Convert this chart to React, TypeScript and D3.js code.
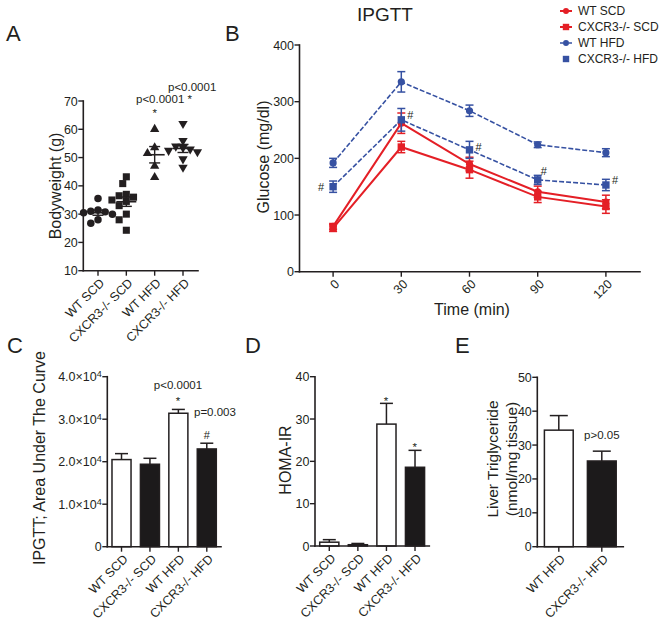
import React from 'react';
import * as d3 from 'd3';

// ---------------- DATA ----------------
const groups = ['WT SCD', 'CXCR3-/- SCD', 'WT HFD', 'CXCR3-/- HFD'];

// Panel A: body weight (g), individual animals
const bwWtScd = [35.5, 31.5, 31, 30.8, 30.5, 30, 28, 26.8];
const bwKoScd = [43.2, 40.8, 37, 36.5, 36, 35, 34.5, 33, 30, 28, 24.3];
const bwWtHfd = [60, 53.5, 51.5, 47, 43];
const bwKoHfd = [62, 56, 54, 53.5, 53, 52.5, 52, 49.5, 46.5];
const bwTicks = [10, 20, 30, 40, 50, 60, 70];

// Panel B: IPGTT glucose (mg/dl)
const timePoints = [0, 30, 60, 90, 120];
const gluWtScd = [80, 262, 190, 141, 123];
const gluWtScdErr = [5, 18, 12, 10, 12];
const gluKoScd = [77, 220, 180, 132, 115];
const gluKoScdErr = [6, 10, 15, 10, 12];
const gluWtHfd = [192, 335, 284, 224, 210];
const gluWtHfdErr = [8, 18, 10, 5, 7];
const gluKoHfd = [150, 268, 215, 162, 153];
const gluKoHfdErr = [10, 20, 15, 8, 10];
const gluTicks = [0, 100, 200, 300, 400];

// Panel C: AUC
const aucMeans = [20500, 19400, 31400, 23000];
const aucErr = [1400, 1400, 900, 1350];
const aucTicks = [0, 10000, 20000, 30000, 40000];

// Panel D: HOMA-IR
const homaMeans = [0.9, 0.3, 28.8, 18.6];
const homaErr = [0.6, 0.3, 4.9, 4.0];
const homaTicks = [0, 10, 20, 30, 40];

// Panel E: liver triglyceride
const tgGroups = ['WT HFD', 'CXCR3-/- HFD'];
const tgMeans = [34.4, 25.3];
const tgErr = [4.3, 2.9];
const tgTicks = [0, 10, 20, 30, 40, 50];

// ---------------- STYLE ----------------
const FONT = '"Liberation Sans", Arial, Helvetica, sans-serif';
const INK = '#231f20';
const RED = '#e41f26';
const BLUE = '#3651a2';
const BAR_BLACK = '#1c1a1b';

function YAxis({ scale, ticks, x, fmt }: any) {
  const lo = d3.min(ticks) as number;
  const hi = d3.max(ticks) as number;
  return (
    <g>
      <line x1={x} x2={x} y1={scale(hi)} y2={scale(lo)} stroke={INK} strokeWidth={1.6} strokeLinecap="square" />
      {ticks.map((t: number) => (
        <g key={t}>
          <line x1={x - 5} x2={x} y1={scale(t)} y2={scale(t)} stroke={INK} strokeWidth={1.4} />
          <text x={x - 5.5} y={scale(t)} dy="0.36em" textAnchor="end" fontSize={12.5} fill={INK}>
            {fmt ? fmt(t) : t}
          </text>
        </g>
      ))}
    </g>
  );
}

function XAxisCats({ x0, x1, y, positions, labels }: any) {
  return (
    <g>
      <line x1={x0} x2={x1} y1={y} y2={y} stroke={INK} strokeWidth={1.6} strokeLinecap="square" />
      {positions.map((p: number, i: number) => (
        <g key={i}>
          <line x1={p} x2={p} y1={y} y2={y + 5} stroke={INK} strokeWidth={1.4} />
          <text
            transform={`translate(${p + 4},${y + 10}) rotate(-45)`}
            dy="0.35em"
            textAnchor="end"
            fontSize={12.5}
            fill={INK}
          >
            {labels[i]}
          </text>
        </g>
      ))}
    </g>
  );
}

function swarm(values: number[], yScale: any, cx: number, minDist: number, step: number) {
  const order = values.map((v) => ({ v, y: yScale(v) })).sort((a, b) => a.y - b.y);
  const placed: { x: number; y: number; v: number }[] = [];
  for (const p of order) {
    let k = 0;
    while (k < 40) {
      const m = Math.ceil(k / 2);
      const off = k === 0 ? 0 : k % 2 === 1 ? -m * step : m * step;
      const x = cx + off;
      if (placed.every((q) => Math.hypot(q.x - x, q.y - p.y) >= minDist)) {
        placed.push({ x, y: p.y, v: p.v });
        break;
      }
      k++;
    }
  }
  return placed;
}

function PanelA() {
  const y = d3.scaleLinear().domain([10, 70]).range([270.7, 101]);
  const x = d3.scalePoint<string>().domain(groups).range([98, 183]);
  const sets = [bwWtScd, bwKoScd, bwWtHfd, bwKoHfd];
  const symbols = [
    { type: d3.symbolCircle, size: 44, rot: 0 },
    { type: d3.symbolSquare, size: 50, rot: 0 },
    { type: d3.symbolTriangle, size: 38, rot: 0 },
    { type: d3.symbolTriangle, size: 38, rot: 180 },
  ];
  return (
    <g>
      <YAxis scale={y} ticks={bwTicks} x={83.3} />
      <XAxisCats x0={83.3} x1={198} y={270.7} positions={groups.map((g) => x(g))} labels={groups} />
      {sets.map((vals, gi) => {
        const cx = x(groups[gi]) as number;
        const pts = swarm(vals, y, cx, 7, 3.6);
        const mean = d3.mean(vals) as number;
        const sem = (d3.deviation(vals) as number) / Math.sqrt(vals.length);
        const path = d3.symbol().type(symbols[gi].type).size(symbols[gi].size)() as string;
        return (
          <g key={gi}>
            {pts.map((p, i) => (
              <path
                key={i}
                d={path}
                transform={`translate(${p.x},${p.y}) rotate(${symbols[gi].rot})`}
                fill={INK}
              />
            ))}
            <line x1={cx - 10} x2={cx + 10} y1={y(mean)} y2={y(mean)} stroke={INK} strokeWidth={1.6} />
            <line x1={cx} x2={cx} y1={y(mean - sem)} y2={y(mean + sem)} stroke={INK} strokeWidth={1.4} />
            <line x1={cx - 5.5} x2={cx + 5.5} y1={y(mean + sem)} y2={y(mean + sem)} stroke={INK} strokeWidth={1.4} />
            <line x1={cx - 5.5} x2={cx + 5.5} y1={y(mean - sem)} y2={y(mean - sem)} stroke={INK} strokeWidth={1.4} />
          </g>
        );
      })}
      <text transform="translate(55,186) rotate(-90)" dy="0.35em" textAnchor="middle" fontSize={16} fill={INK}>
        Bodyweight (g)
      </text>
      <text x={168} y={91} fontSize={11.5} fill={INK}>p&lt;0.0001</text>
      <text x={136} y={103} fontSize={11.5} fill={INK}>p&lt;0.0001 *</text>
      <text x={x('WT HFD') as number} y={116.5} textAnchor="middle" fontSize={11.5} fill={INK}>*</text>
    </g>
  );
}

function PanelB() {
  const x = d3.scaleLinear().domain([-15, 135]).range([299, 640]);
  const y = d3.scaleLinear().domain([0, 400]).range([271.7, 45]);
  const series = [
    { name: 'WT SCD', vals: gluWtScd, err: gluWtScdErr, color: RED, dash: null, sym: 'circle', w: 2 },
    { name: 'CXCR3-/- SCD', vals: gluKoScd, err: gluKoScdErr, color: RED, dash: null, sym: 'square', w: 2 },
    { name: 'WT HFD', vals: gluWtHfd, err: gluWtHfdErr, color: BLUE, dash: '5,2', sym: 'circle', w: 1.6 },
    { name: 'CXCR3-/- HFD', vals: gluKoHfd, err: gluKoHfdErr, color: BLUE, dash: '5,2', sym: 'square', w: 1.6 },
  ];
  const line = d3
    .line<number>()
    .x((_, i) => x(timePoints[i]))
    .y((d) => y(d));
  const marker = (sym: string, cx: number, cy: number, color: string, k: any) =>
    sym === 'circle' ? (
      <circle key={k} cx={cx} cy={cy} r={3.6} fill={color} />
    ) : (
      <rect key={k} x={cx - 3.7} y={cy - 3.7} width={7.4} height={7.4} fill={color} />
    );
  const ko = gluKoHfd;
  const hashPos = [
    { dx: -9, dy: 0, anchor: 'end' },
    { dx: 6, dy: -5, anchor: 'start' },
    { dx: 6, dy: -3, anchor: 'start' },
    { dx: 3, dy: -9, anchor: 'start' },
    { dx: 6, dy: -5, anchor: 'start' },
  ];
  return (
    <g>
      <YAxis scale={y} ticks={gluTicks} x={299.5} />
      <line x1={299.5} x2={640} y1={271.7} y2={271.7} stroke={INK} strokeWidth={1.6} strokeLinecap="square" />
      {timePoints.map((t) => (
        <g key={t}>
          <line x1={x(t)} x2={x(t)} y1={271.7} y2={276.7} stroke={INK} strokeWidth={1.4} />
          <text
            transform={`translate(${x(t) + 4},${281.7}) rotate(-45)`}
            dy="0.35em"
            textAnchor="end"
            fontSize={12.5}
            fill={INK}
          >
            {t}
          </text>
        </g>
      ))}
      {series.map((s, si) => (
        <g key={si}>
          <path
            d={line(s.vals) as string}
            fill="none"
            stroke={s.color}
            strokeWidth={s.w}
            strokeDasharray={s.dash || undefined}
          />
          {s.vals.map((v, i) => {
            const cx = x(timePoints[i]);
            return (
              <g key={i}>
                <line x1={cx} x2={cx} y1={y(v - s.err[i])} y2={y(v + s.err[i])} stroke={s.color} strokeWidth={1.5} />
                <line x1={cx - 4} x2={cx + 4} y1={y(v + s.err[i])} y2={y(v + s.err[i])} stroke={s.color} strokeWidth={1.5} />
                <line x1={cx - 4} x2={cx + 4} y1={y(v - s.err[i])} y2={y(v - s.err[i])} stroke={s.color} strokeWidth={1.5} />
                {marker(s.sym, cx, y(v), s.color, 'm')}
              </g>
            );
          })}
        </g>
      ))}
      {ko.map((v, i) => (
        <text
          key={i}
          x={x(timePoints[i]) + hashPos[i].dx}
          y={y(v) + hashPos[i].dy}
          dy="0.35em"
          textAnchor={hashPos[i].anchor as any}
          fontSize={11}
          fill={INK}
        >
          #
        </text>
      ))}
      <text transform="translate(263,157) rotate(-90)" dy="0.35em" textAnchor="middle" fontSize={16} fill={INK}>
        Glucose (mg/dl)
      </text>
      <text x={472} y={315} textAnchor="middle" fontSize={16} fill={INK}>
        Time (min)
      </text>
      <text x={357} y={21} fontSize={19} fill={INK}>
        IPGTT
      </text>
      {/* legend */}
      {series.map((s, i) => {
        const ly = 11 + i * 16;
        return (
          <g key={i}>
            {i < 3 && (
              <line
                x1={560}
                x2={572}
                y1={ly}
                y2={ly}
                stroke={s.color}
                strokeWidth={s.w}
                strokeDasharray={s.dash ? '3,1.5' : undefined}
              />
            )}
            {s.sym === 'circle' ? (
              <circle cx={566} cy={ly} r={3} fill={s.color} />
            ) : (
              <rect x={562.8} y={ly - 3.2} width={6.4} height={6.4} fill={s.color} />
            )}
            <text x={578} y={ly} dy="0.36em" fontSize={12} fill={INK}>
              {s.name}
            </text>
          </g>
        );
      })}
    </g>
  );
}

function BarPanel({ cats, means, errs, ticks, yDomain, yRange, xRange, fmt, capW }: any) {
  const y = d3.scaleLinear().domain(yDomain).range(yRange);
  const x = d3.scaleBand<string>().domain(cats).range(xRange).paddingInner(0.33).paddingOuter(0.165);
  const bw = x.bandwidth();
  return (
    <g>
      {cats.map((c: string, i: number) => {
        const x0 = x(c) as number;
        const cx = x0 + bw / 2;
        const black = c.startsWith('CXCR3');
        return (
          <g key={c}>
            <line x1={cx} x2={cx} y1={y(means[i])} y2={y(means[i] + errs[i])} stroke={INK} strokeWidth={1.5} />
            <line x1={cx - capW / 2} x2={cx + capW / 2} y1={y(means[i] + errs[i])} y2={y(means[i] + errs[i])} stroke={INK} strokeWidth={1.5} />
            <rect
              x={x0}
              y={y(means[i])}
              width={bw}
              height={y(0) - y(means[i])}
              fill={black ? BAR_BLACK : '#ffffff'}
              stroke={INK}
              strokeWidth={1.5}
            />
          </g>
        );
      })}
      <YAxis scale={y} ticks={ticks} x={xRange[0]} fmt={fmt} />
      <XAxisCats
        x0={xRange[0]}
        x1={xRange[1]}
        y={yRange[0]}
        positions={cats.map((c: string) => (x(c) as number) + bw / 2)}
        labels={cats}
      />
    </g>
  );
}

const sciFmt = (v: number) =>
  v === 0 ? (
    '0'
  ) : (
    <>
      {(v / 1e4).toFixed(1)}×10
      <tspan dy="-0.45em" fontSize={9}>4</tspan>
    </>
  );

export default function App() {
  return (
    <svg
      width={664}
      height={620}
      viewBox="0 0 664 620"
      style={{ position: 'absolute', left: 0, top: 0, background: '#ffffff' }}
      fontFamily={FONT}
    >
      <rect width={664} height={620} fill="#ffffff" />
      {/* panel letters */}
      <text x={6} y={41} fontSize={22} fill={INK}>A</text>
      <text x={225} y={41} fontSize={22} fill={INK}>B</text>
      <text x={7} y={353} fontSize={22} fill={INK}>C</text>
      <text x={245} y={353} fontSize={22} fill={INK}>D</text>
      <text x={455} y={353} fontSize={22} fill={INK}>E</text>

      <PanelA />
      <PanelB />

      {/* Panel C */}
      <BarPanel
        cats={groups}
        means={aucMeans}
        errs={aucErr}
        ticks={aucTicks}
        yDomain={[0, 40000]}
        yRange={[546.7, 376.7]}
        xRange={[107.3, 221]}
        fmt={sciFmt}
        capW={13}
      />
      <text transform="translate(39,458) rotate(-90)" dy="0.35em" textAnchor="middle" fontSize={16} fill={INK}>
        IPGTT; Area Under The Curve
      </text>
      <text x={178} y={389} textAnchor="middle" fontSize={11.5} fill={INK}>p&lt;0.0001</text>
      <text x={178} y={405} textAnchor="middle" fontSize={11.5} fill={INK}>*</text>
      <text x={194} y={415.5} fontSize={11.5} fill={INK}>p=0.003</text>
      <text x={206.7} y={439} textAnchor="middle" fontSize={11} fill={INK}>#</text>

      {/* Panel D */}
      <BarPanel
        cats={groups}
        means={homaMeans}
        errs={homaErr}
        ticks={homaTicks}
        yDomain={[0, 40]}
        yRange={[546, 376.7]}
        xRange={[315, 429.3]}
        capW={13}
      />
      <text transform="translate(285,460) rotate(-90)" dy="0.35em" textAnchor="middle" fontSize={16} fill={INK}>
        HOMA-IR
      </text>
      <text x={386} y={404.5} textAnchor="middle" fontSize={11.5} fill={INK}>*</text>
      <text x={414.7} y={451} textAnchor="middle" fontSize={11.5} fill={INK}>*</text>

      {/* Panel E */}
      <BarPanel
        cats={tgGroups}
        means={tgMeans}
        errs={tgErr}
        ticks={tgTicks}
        yDomain={[0, 50]}
        yRange={[546.7, 377.3]}
        xRange={[537.3, 623.3]}
        capW={18}
      />
      <text transform="translate(493,459) rotate(-90)" dy="0.35em" textAnchor="middle" fontSize={15.5} fill={INK}>
        Liver Triglyceride
      </text>
      <text transform="translate(512,459) rotate(-90)" dy="0.35em" textAnchor="middle" fontSize={15.5} fill={INK}>
        (nmol/mg tissue)
      </text>
      <text x={601.8} y={439} textAnchor="middle" fontSize={11.5} fill={INK}>p&gt;0.05</text>
    </svg>
  );
}
